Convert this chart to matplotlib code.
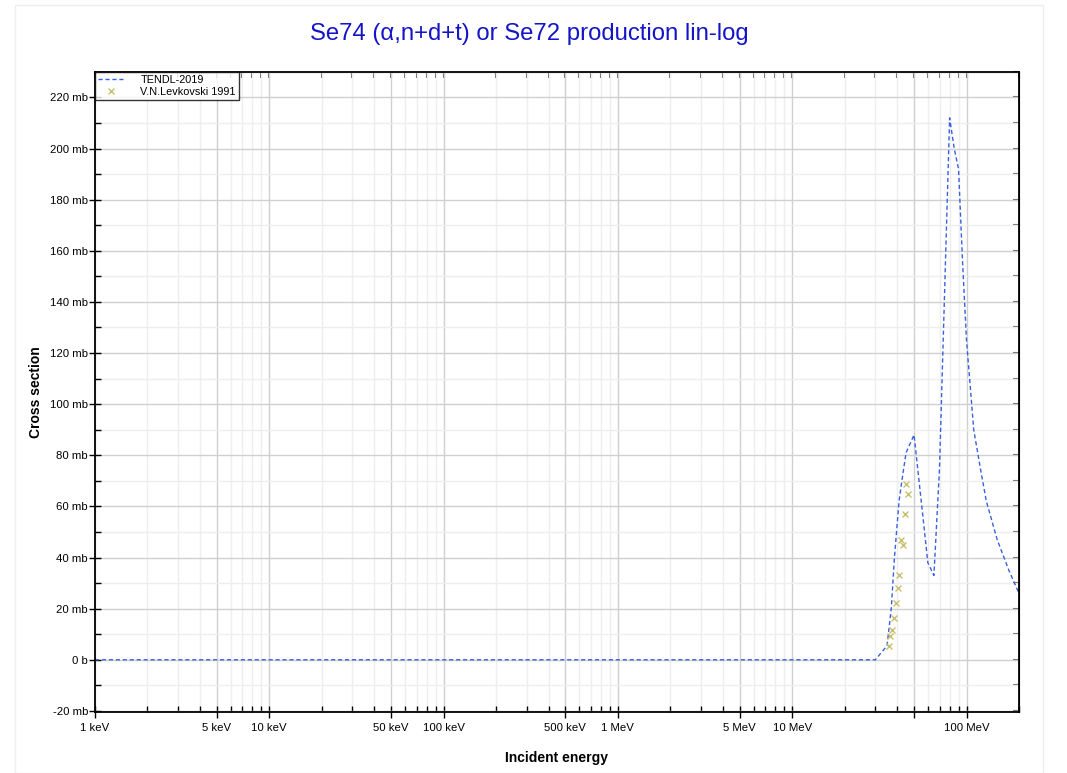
import matplotlib
matplotlib.use("Agg")
import matplotlib.pyplot as plt
from matplotlib.ticker import FixedLocator, MultipleLocator, FuncFormatter, NullFormatter
from matplotlib.patches import Rectangle

plt.rcParams['font.family'] = ['Liberation Sans', 'DejaVu Sans']

# TENDL-2019 curve (energy in MeV, cross section in mb)
tendl_e = [1e-3, 30, 35, 37, 38.6, 41, 43, 45, 50, 55, 60, 65, 67, 70, 80,
           85, 90, 95, 100, 110, 120, 130, 150, 175, 200]
tendl_xs = [0, 0, 5.5, 20, 40, 62, 72, 81, 88, 62, 38, 33, 50, 75, 212,
            200, 192, 155, 125, 90, 75, 62, 47, 35, 26]

# V.N.Levkovski 1991
exp_e = [35.7, 36.5, 37.3, 38.3, 39.2, 40.2, 41.2, 42.2, 43.1, 44.3, 45.2, 45.9]
exp_xs = [5.2, 9.4, 11.6, 16.3, 22.1, 28, 33, 47, 45, 57, 68.9, 64.8]

xtick_vals = [1e-3, 5e-3, 1e-2, 5e-2, 1e-1, 5e-1, 1, 5, 10, 50, 100]
xtick_labels = ["1 keV", "5 keV", "10 keV", "50 keV", "100 keV", "500 keV",
                "1 MeV", "5 MeV", "10 MeV", "", "100 MeV"]

fig = plt.figure(figsize=(10.67, 7.73), dpi=100)
fig.patches.append(Rectangle((15 / 1067, 0), 1028 / 1067, 0.994, transform=fig.transFigure,
                             fill=False, edgecolor="#eeeeee", linewidth=1))
ax = fig.add_axes([0.089, 0.079, 0.866, 0.828])

ax.plot(tendl_e, tendl_xs, linestyle=(0, (3, 2)), color="#3a5fe0", linewidth=1,
        label="TENDL-2019")
ax.plot(exp_e, exp_xs, linestyle="none", marker="x", markersize=5, color="#c8c070",
        markeredgewidth=1, label="V.N.Levkovski 1991")

ax.set_xscale("log")
ax.set_xlim(1e-3, 200)
ax.set_ylim(-20.4, 230)

minor = []
for d in [1e-3, 1e-2, 1e-1, 1, 10, 100]:
    for m in [2, 3, 4, 6, 7, 8, 9]:
        if d * m <= 200:
            minor.append(d * m)
ax.xaxis.set_major_locator(FixedLocator(xtick_vals))
ax.xaxis.set_minor_locator(FixedLocator(minor))
ax.set_xticklabels(xtick_labels)
ax.xaxis.set_minor_formatter(NullFormatter())

ax.yaxis.set_major_locator(MultipleLocator(20))
ax.yaxis.set_minor_locator(MultipleLocator(10))
ax.yaxis.set_major_formatter(FuncFormatter(lambda v, p: "0 b" if abs(v) < 1e-9 else "%d mb" % v))

ax.grid(which="major", color="#d0d0d0", linewidth=1)
ax.grid(which="minor", color="#eeeeee", linewidth=1)
ax.set_axisbelow(True)

ax.tick_params(which="major", direction="inout", length=8, width=1, labelsize=8.2)
ax.tick_params(axis="y", which="major", pad=1)
ax.tick_params(axis="x", which="major", pad=4)
ax.tick_params(which="minor", direction="in", length=4, width=1)
for s in ax.spines.values():
    s.set_linewidth(1.3)

# inward ticks on top and right
top = ax.secondary_xaxis("top")
top.xaxis.set_major_locator(FixedLocator(xtick_vals))
top.xaxis.set_minor_locator(FixedLocator(minor))
top.xaxis.set_major_formatter(NullFormatter())
top.xaxis.set_minor_formatter(NullFormatter())
top.tick_params(which="both", direction="in", length=4, width=1.5, color="#666666")
right = ax.secondary_yaxis("right")
right.yaxis.set_major_locator(MultipleLocator(20))
right.yaxis.set_minor_locator(MultipleLocator(10))
right.yaxis.set_major_formatter(NullFormatter())
right.tick_params(which="both", direction="in", length=4, width=1.5, color="#666666")

ax.set_xlabel("Incident energy", fontsize=10, fontweight="bold", labelpad=13)
ax.set_ylabel("Cross section", fontsize=10, fontweight="bold", labelpad=5)
fig.text(0.496, 1 - 34 / 773, "Se74 (\u03b1,n+d+t) or Se72 production lin-log",
         color="#1414c8", fontsize=17.2, ha="center", va="center")

leg = ax.legend(loc="upper left", fontsize=7.8, frameon=True, fancybox=False,
                borderaxespad=0, handlelength=2.4, handletextpad=1.5,
                borderpad=0.3, labelspacing=0.15)
leg.get_frame().set_edgecolor("black")
leg.get_frame().set_linewidth(1)

fig.savefig("out.png", dpi=100)
